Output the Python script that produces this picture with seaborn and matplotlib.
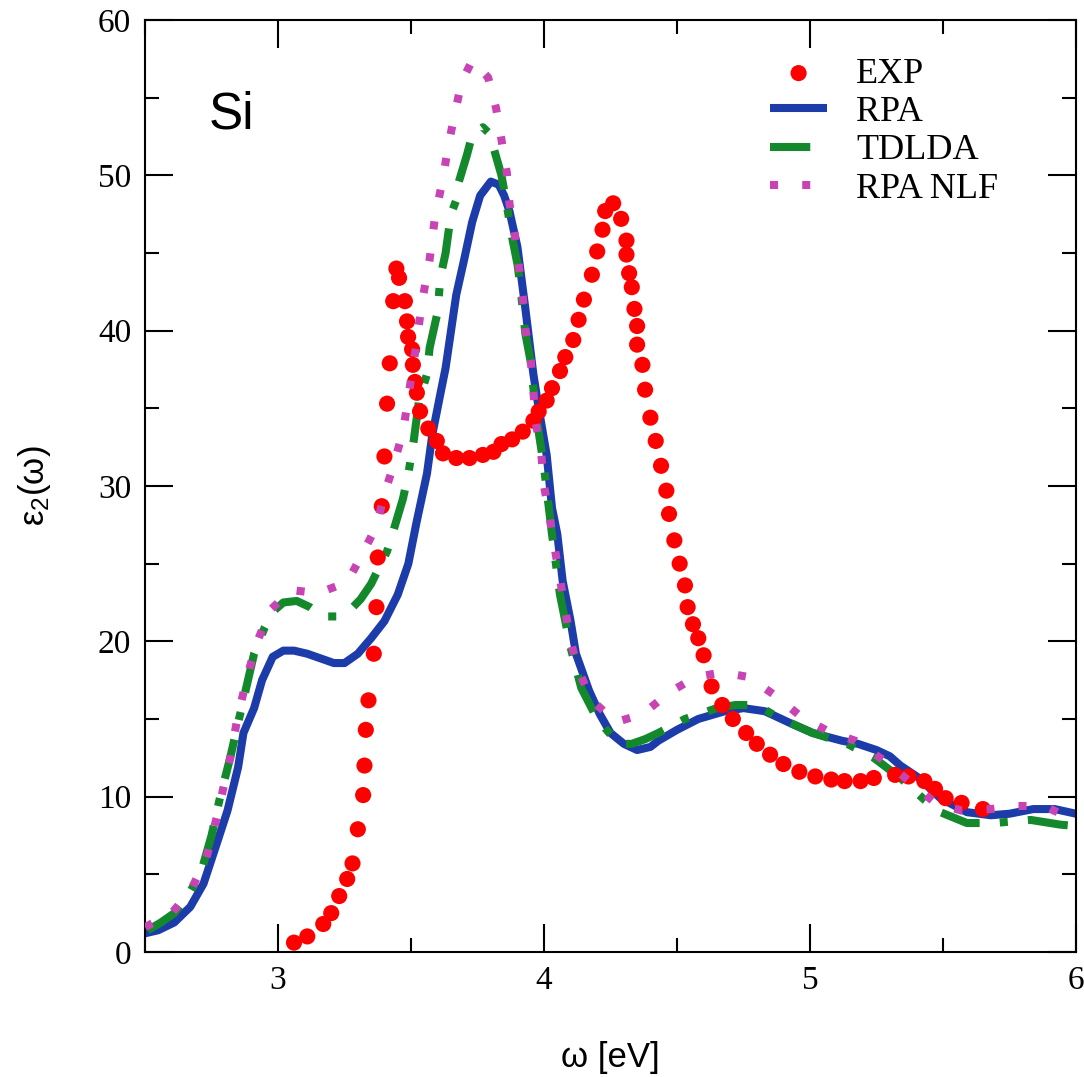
import numpy as np
import pandas as pd
import seaborn as sns
import matplotlib.pyplot as plt
from matplotlib.ticker import MultipleLocator

# experiment (red circles)
exp_x = [3.06, 3.11, 3.17, 3.20, 3.23, 3.26, 3.28, 3.30, 3.32, 3.325, 3.33, 3.34,
         3.36, 3.37, 3.375, 3.39, 3.40, 3.41, 3.42, 3.433, 3.445, 3.455, 3.477,
         3.485, 3.489, 3.504, 3.507, 3.515, 3.522, 3.534, 3.565, 3.597, 3.62,
         3.67, 3.72, 3.77, 3.81, 3.84, 3.88, 3.92, 3.96, 3.98, 4.01, 4.03, 4.06,
         4.08, 4.11, 4.13, 4.15, 4.18, 4.20, 4.22, 4.23, 4.26, 4.29, 4.31, 4.31,
         4.32, 4.33, 4.34, 4.35, 4.35, 4.37, 4.38, 4.40, 4.42, 4.44, 4.46, 4.47,
         4.49, 4.51, 4.53, 4.54, 4.56, 4.58, 4.60, 4.63, 4.67, 4.71, 4.76, 4.80,
         4.85, 4.90, 4.96, 5.02, 5.08, 5.13, 5.19, 5.24, 5.32, 5.37, 5.43, 5.47,
         5.51, 5.57, 5.65]
exp_y = [0.6, 1.0, 1.8, 2.5, 3.6, 4.7, 5.7, 7.9, 10.1, 12.0, 14.3, 16.2,
         19.2, 22.2, 25.4, 28.7, 31.9, 35.3, 37.9, 41.9, 44.0, 43.4, 41.9,
         40.6, 39.6, 38.8, 37.8, 36.7, 36.0, 34.8, 33.7, 32.9, 32.1,
         31.8, 31.8, 32.0, 32.2, 32.7, 33.0, 33.5, 34.2, 34.8, 35.5, 36.3, 37.4,
         38.3, 39.4, 40.7, 42.0, 43.6, 45.1, 46.5, 47.7, 48.2, 47.2, 45.8, 44.9,
         43.7, 42.8, 41.4, 40.3, 39.1, 37.8, 36.2, 34.4, 32.9, 31.3, 29.7, 28.2,
         26.5, 25.0, 23.6, 22.2, 21.1, 20.2, 19.1, 17.1, 15.9, 15.0, 14.1, 13.4,
         12.7, 12.1, 11.6, 11.3, 11.1, 11.0, 11.0, 11.2, 11.4, 11.3, 11.0, 10.5,
         9.9, 9.6, 9.2]

# RPA
rpa_x = [2.50, 2.55, 2.61, 2.67, 2.72, 2.77, 2.81, 2.85, 2.87, 2.91, 2.94, 2.98,
         3.02, 3.06, 3.11, 3.16, 3.21, 3.25, 3.30, 3.35, 3.40, 3.45, 3.49, 3.52,
         3.56, 3.58, 3.61, 3.63, 3.67, 3.70, 3.73, 3.76, 3.80, 3.83, 3.85, 3.87,
         3.90, 3.93, 3.96, 3.98, 4.01, 4.03, 4.05, 4.07, 4.10, 4.12, 4.17, 4.21,
         4.25, 4.30, 4.35, 4.40, 4.43, 4.50, 4.58, 4.68, 4.75, 4.83, 4.93, 5.01,
         5.12, 5.18, 5.25, 5.30, 5.34, 5.41, 5.49, 5.59, 5.68, 5.75, 5.84, 5.92,
         6.00]
rpa_y = [1.2, 1.4, 1.9, 2.9, 4.4, 7.0, 9.1, 11.9, 14.1, 15.7, 17.5, 19.0,
         19.4, 19.4, 19.2, 18.9, 18.6, 18.6, 19.2, 20.2, 21.3, 23.0, 25.0, 27.6,
         30.8, 33.3, 35.9, 37.6, 42.3, 44.6, 47.0, 48.7, 49.6, 49.4, 48.7, 47.7,
         45.4, 41.4, 37.2, 35.0, 32.0, 28.6, 26.9, 23.9, 21.3, 19.2, 16.8, 15.3,
         14.1, 13.4, 13.0, 13.2, 13.6, 14.3, 15.0, 15.5, 15.7, 15.5, 14.7, 14.1,
         13.6, 13.4, 13.0, 12.6, 12.0, 11.2, 9.9, 9.0, 8.8, 8.9, 9.2, 9.2,
         8.9]

# TDLDA
td_x = [2.51, 2.56, 2.61, 2.66, 2.71, 2.75, 2.78, 2.82, 2.86, 2.91, 2.95, 2.98,
        3.02, 3.07, 3.12, 3.17, 3.22, 3.27, 3.31, 3.35, 3.41, 3.43, 3.47, 3.49,
        3.51, 3.53, 3.56, 3.57, 3.60, 3.61, 3.63, 3.65, 3.67, 3.68, 3.71, 3.73,
        3.77, 3.80, 3.81, 3.84, 3.86, 3.88, 3.90, 3.91, 3.93, 3.95, 3.97, 4.00,
        4.03, 4.06, 4.10, 4.14, 4.20, 4.28, 4.33, 4.38, 4.43, 4.53, 4.65, 4.72,
        4.80, 4.88, 5.01, 5.14, 5.24, 5.34, 5.43, 5.49, 5.59, 5.69, 5.83, 5.94,
        6.00]
td_y = [1.4, 1.9, 2.5, 3.6, 5.1, 7.5, 9.8, 12.5, 15.5, 19.2, 20.9, 21.9,
        22.5, 22.6, 22.2, 21.6, 21.6, 22.0, 22.7, 23.7, 25.8, 26.9, 29.2, 30.8,
        32.9, 35.5, 37.2, 38.9, 41.2, 43.4, 45.0, 47.5, 48.4, 49.6, 51.3, 52.6,
        53.1, 52.6, 51.8, 50.0, 48.1, 46.0, 44.3, 43.0, 39.8, 38.0, 34.6, 31.2,
        26.9, 23.0, 19.6, 17.0, 15.0, 13.4, 13.4, 13.7, 14.1, 15.0, 15.7, 15.9,
        15.9, 15.1, 14.1, 13.4, 12.5, 11.2, 9.8, 9.0, 8.3, 8.3, 8.5, 8.2,
        8.1]

# RPA without local fields
nlf_x = [2.50, 2.60, 2.67, 2.73, 2.77, 2.82, 2.85, 2.89, 2.92, 2.97, 3.05, 3.15,
         3.26, 3.31, 3.37, 3.40, 3.43, 3.47, 3.50, 3.52, 3.54, 3.57, 3.59, 3.62,
         3.64, 3.66, 3.69, 3.73, 3.79, 3.82, 3.84, 3.86, 3.87, 3.89, 3.92, 3.93,
         3.95, 3.96, 3.97, 3.99, 4.00, 4.02, 4.05, 4.08, 4.10, 4.13, 4.18, 4.27,
         4.37, 4.47, 4.57, 4.67, 4.77, 4.87, 4.97, 5.07, 5.17, 5.28, 5.38, 5.47,
         5.57, 5.68, 5.77, 5.88, 5.98]
nlf_y = [1.6, 2.5, 3.9, 6.0, 8.7, 12.5, 15.3, 18.1, 19.9, 22.0, 23.3, 23.1,
         23.8, 25.4, 27.4, 29.5, 31.1, 33.5, 36.9, 39.1, 41.7, 44.6, 47.3, 49.8,
         51.9, 53.6, 56.0, 57.4, 56.3, 54.3, 52.3, 50.2, 48.2, 46.2, 42.2, 40.1,
         38.1, 36.1, 34.0, 32.0, 30.0, 28.1, 25.0, 22.0, 20.0, 18.1, 16.2, 14.8,
         15.3, 16.7, 17.7, 18.0, 17.7, 16.5, 15.1, 14.2, 13.6, 12.3, 10.9, 9.6,
         9.1, 9.2, 9.4, 9.4, 8.6]

sns.set_theme(style="ticks")
plt.rcParams["font.family"] = ["Liberation Serif", "DejaVu Serif"]
plt.rcParams["text.color"] = "black"
plt.rcParams["axes.labelcolor"] = "black"

fig = plt.figure(figsize=(10.84, 10.77), dpi=100)
ax = fig.add_axes([0.1338, 0.1161, 0.8588, 0.8653])

lw = 5.8
blue, green, mag = "#1c3caa", "#13892b", "#c844b4"

sns.lineplot(x=rpa_x, y=rpa_y, ax=ax, color=blue, lw=lw, sort=False,
             estimator=None, label="RPA", solid_capstyle="butt", zorder=2)
sns.lineplot(x=td_x, y=td_y, ax=ax, color=green, lw=lw, sort=False,
             estimator=None, label="TDLDA", linestyle=(0, (5, 2.5, 1, 2.5)),
             dash_capstyle="butt", zorder=3)
sns.scatterplot(x=exp_x, y=exp_y, ax=ax, color="#ff0000", s=135,
                edgecolor="none", label="EXP", zorder=4)
sns.lineplot(x=nlf_x, y=nlf_y, ax=ax, color=mag, lw=lw, sort=False,
             estimator=None, label="RPA NLF", linestyle=(0, (1, 3)),
             dash_capstyle="butt", zorder=5)

ax.set_xlim(2.5, 6)
ax.set_ylim(0, 60)
ax.xaxis.set_major_locator(MultipleLocator(1))
ax.xaxis.set_minor_locator(MultipleLocator(0.5))
ax.yaxis.set_major_locator(MultipleLocator(10))
ax.yaxis.set_minor_locator(MultipleLocator(5))
ax.tick_params(which="both", direction="in", top=True, right=True,
               width=1.5, colors="black", labelsize=24, pad=10)
ax.tick_params(which="major", length=20)
ax.tick_params(which="minor", length=10)
for sp in ax.spines.values():
    sp.set_linewidth(1.5)
    sp.set_color("black")

sans = ["Liberation Sans", "DejaVu Sans"]
ax.set_xlabel("ω [eV]", family=sans, fontsize=25, labelpad=32)
ax.set_ylabel(r"$\mathregular{\varepsilon_2(\omega)}$", family=sans,
              fontsize=25, labelpad=32)
ax.text(0.068, 0.884, "Si", transform=ax.transAxes, family=sans, fontsize=37)

h, l = ax.get_legend_handles_labels()
order = [l.index(k) for k in ["EXP", "RPA", "TDLDA", "RPA NLF"]]
ax.legend([h[i] for i in order], [l[i] for i in order], loc="upper left",
          bbox_to_anchor=(0.671, 0.96), frameon=False, fontsize=26,
          handlelength=1.6, handletextpad=0.8, labelspacing=0.14,
          borderpad=0, borderaxespad=0, labelcolor="black")

fig.savefig("out.png", dpi=100)
